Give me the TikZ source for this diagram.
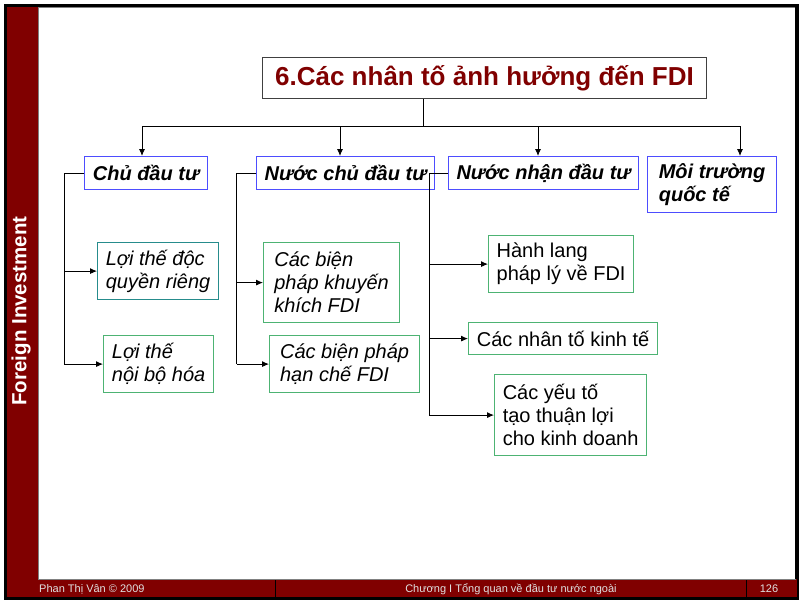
\documentclass[tikz,border=0pt]{standalone}
\usepackage{fontspec}
\setmainfont{Liberation Sans}
\usepackage{xcolor}
\usepackage{tikz}
\usetikzlibrary{arrows.meta, positioning}
\definecolor{darkred}{RGB}{128,0,0}
\definecolor{boxblue}{RGB}{77,77,255}
\definecolor{boxgreen}{RGB}{77,179,115}
\definecolor{boxteal}{RGB}{38,140,140}

\begin{document}
\begin{tikzpicture}[x=1pt, y=-1pt,
    line/.style={draw=black, line width=0.9pt},
    arr/.style={line, -{Latex[length=7pt, width=6pt]}},
    titlebox/.style={draw=black!75, line width=1pt, fill=white, text=darkred,
        font=\fontsize{26}{30}\selectfont\bfseries, anchor=north west, inner sep=0pt},
    catbox/.style={draw=boxblue, line width=1.2pt, fill=white, align=left,
        font=\fontsize{20}{23}\selectfont\bfseries\itshape, anchor=north west, inner sep=0pt},
    itembox/.style={draw=boxgreen, line width=1.2pt, fill=white, align=left,
        font=\fontsize{20}{23}\selectfont, anchor=north west, inner sep=0pt},
    footer/.style={text=white!88!black, font=\fontsize{11}{13}\selectfont, inner sep=0pt}
]
    \useasboundingbox (0,0) rectangle (803,600);

    % Slide frame
    \fill[black] (4,4) rectangle (799,600);
    \fill[darkred] (7,7) rectangle (797,597);
    \draw[fill=white, draw=gray, line width=0.6pt] (38,7) rectangle (795,579);
    \fill[black] (795,4) rectangle (799,579);
    \node[rotate=90, text=white, font=\fontsize{20.5}{24}\selectfont\bfseries] (side) at (21,311) {Foreign Investment};

    % Footer
    \draw[black, line width=1pt] (275,580) -- (275,597);
    \draw[black, line width=1pt] (746,580) -- (746,597);
    \node[footer, anchor=west] (author) at (39,589) {Phan Thị Vân © 2009};
    \node[footer] (chapter) at (511,589) {Chương I Tổng quan về đầu tư nước ngoài};
    \node[footer] (page) at (769,589) {126};

    % Title
    \node[titlebox, minimum width=444pt, minimum height=41pt] (title) at (262,57) {6.Các nhân tố ảnh hưởng đến FDI};

    % Main groups
    \node[catbox, minimum width=123pt, minimum height=33pt] (chu) at (84,156) {Chủ đầu tư};
    \node[catbox, minimum width=178pt, minimum height=33pt] (nchu) at (256,156) {Nước chủ đầu tư};
    \node[catbox, minimum width=190pt, minimum height=33pt] (nnhan) at (448,156) {Nước nhận đầu tư};
    \node[catbox, minimum width=129pt, minimum height=56pt] (moitr) at (647,156) {Môi trường\\quốc tế};

    % Sub items
    \node[itembox, draw=boxteal, font=\fontsize{20}{23}\selectfont\itshape, minimum width=121pt, minimum height=57pt] (loi1) at (97,242) {Lợi thế độc\\quyền riêng};
    \node[itembox, font=\fontsize{20}{23}\selectfont\itshape, minimum width=110pt, minimum height=57pt] (loi2) at (103,335) {Lợi thế\\nội bộ hóa};
    \node[itembox, font=\fontsize{20}{23}\selectfont\itshape, minimum width=136pt, minimum height=80pt] (bien1) at (263,242) {Các biện\\pháp khuyến\\khích FDI};
    \node[itembox, font=\fontsize{20}{23}\selectfont\itshape, minimum width=150pt, minimum height=57pt] (bien2) at (269,335) {Các biện pháp\\hạn chế FDI};
    \node[itembox, minimum width=145pt, minimum height=57pt] (hanh) at (488,235) {Hành lang\\pháp lý về FDI};
    \node[itembox, minimum width=189pt, minimum height=32pt] (kinhte) at (468,322) {Các nhân tố kinh tế};
    \node[itembox, minimum width=152pt, minimum height=81pt] (yeuto) at (494,374) {Các yếu tố\\tạo thuận lợi\\cho kinh doanh};

    % Top bus
    \coordinate (hub) at (423,126);
    \coordinate (b1) at (142,126);
    \coordinate (b2) at (340,126);
    \coordinate (b3) at (538,126);
    \coordinate (b4) at (740,126);
    \draw[line] (hub |- title.south) -- (hub);
    \draw[line] (b1) -- (b4);
    \foreach \b/\n in {b1/chu, b2/nchu, b3/nnhan, b4/moitr}
        \draw[arr] (\b) -- (\b |- \n.north);

    % Branches
    \coordinate (s1) at (64,0);
    \coordinate (s2) at (236.5,0);
    \coordinate (s3) at (429,0);
    \draw[line] (chu.west) -- (chu.west -| s1) -- (s1 |- loi2.west);
    \draw[line] (nchu.west) -- (nchu.west -| s2) -- (s2 |- bien2.west);
    \draw[line] (nnhan.west) -- (nnhan.west -| s3) -- (s3 |- yeuto.west);
    \foreach \s/\n in {s1/loi1, s1/loi2, s2/bien1, s2/bien2, s3/hanh, s3/kinhte, s3/yeuto}
        \draw[arr] (\s |- \n.west) -- (\n.west);
\end{tikzpicture}
\end{document}
